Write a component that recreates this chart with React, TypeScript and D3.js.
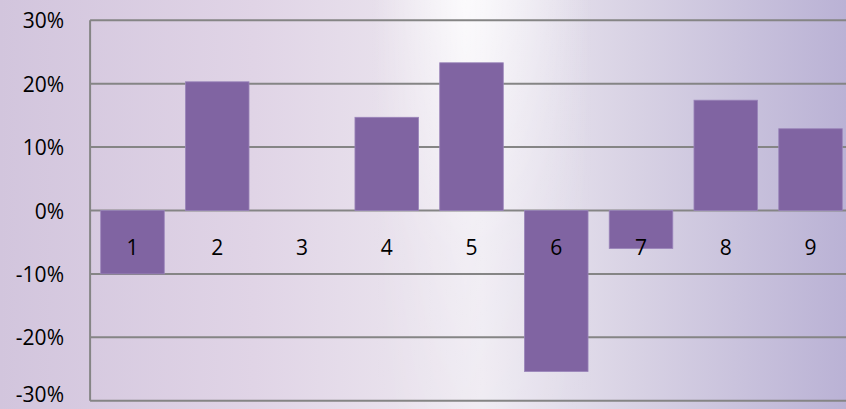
import React from "react";
import * as d3 from "d3";

const categories: string[] = ["1", "2", "3", "4", "5", "6", "7", "8", "9"];
const values: number[] = [-0.1, 0.203, 0, 0.147, 0.233, -0.254, -0.06, 0.174, 0.129];
const yTicks: number[] = [-0.3, -0.2, -0.1, 0, 0.1, 0.2, 0.3];

const W = 846;
const H = 409;

export default function App() {
  const plotLeft = 90.1;
  const plotRight = 852.9;
  const y = d3.scaleLinear().domain([-0.3, 0.3]).range([400.7, 20.3]);
  const x = d3
    .scaleBand<string>()
    .domain(categories)
    .range([plotLeft, plotRight])
    .paddingInner(0.25)
    .paddingOuter(0.125);
  const fmt = d3.format(".0%");
  const font = "'Open Sans', 'DejaVu Sans', sans-serif";

  return (
    <svg
      width={W}
      height={H}
      style={{ position: "absolute", left: 0, top: 0, display: "block" }}
    >
      <defs>
        <linearGradient id="bgH" x1="0" y1="0" x2="1" y2="0">
          <stop offset="0" stopColor="#d2c5dd" />
          <stop offset="0.3" stopColor="#e0d4e6" />
          <stop offset="0.48" stopColor="#e9e2ed" />
          <stop offset="0.57" stopColor="#eeeaf2" />
          <stop offset="0.75" stopColor="#d8d2e4" />
          <stop offset="1" stopColor="#bab2d5" />
        </linearGradient>
        <linearGradient id="streak" x1="0" y1="0" x2="1" y2="0">
          <stop offset="0.44" stopColor="#ffffff" stopOpacity="0" />
          <stop offset="0.55" stopColor="#ffffff" stopOpacity="0.8" />
          <stop offset="0.6" stopColor="#ffffff" stopOpacity="0.5" />
          <stop offset="0.7" stopColor="#ffffff" stopOpacity="0" />
        </linearGradient>
        <linearGradient id="streakMask" x1="0" y1="0" x2="0" y2="1">
          <stop offset="0" stopColor="#ffffff" stopOpacity="1" />
          <stop offset="0.6" stopColor="#ffffff" stopOpacity="0.3" />
          <stop offset="1" stopColor="#ffffff" stopOpacity="0.15" />
        </linearGradient>
        <mask id="m">
          <rect x={0} y={0} width={W} height={H} fill="url(#streakMask)" />
        </mask>
      </defs>
      <rect x={0} y={0} width={W} height={H} fill="url(#bgH)" />
      <rect x={0} y={0} width={W} height={H} fill="url(#streak)" mask="url(#m)" />

      {yTicks.map((t) => (
        <line
          key={"g" + t}
          x1={plotLeft}
          x2={plotRight}
          y1={y(t)}
          y2={y(t)}
          stroke="#858585"
          strokeWidth={2}
        />
      ))}
      <line
        x1={plotLeft}
        x2={plotLeft}
        y1={y(0.3)}
        y2={y(-0.3)}
        stroke="#858585"
        strokeWidth={2}
      />

      {categories.map((c, i) => {
        const v = values[i];
        const y0 = y(Math.max(0, v));
        const y1 = y(Math.min(0, v));
        return (
          <rect
            key={"b" + c}
            x={x(c)}
            y={y0}
            width={x.bandwidth()}
            height={Math.max(0, y1 - y0)}
            fill="#8064a2"
            stroke="#9a84ba"
            strokeWidth={0.8}
          />
        );
      })}

      {yTicks.map((t) => (
        <text
          key={"t" + t}
          x={64}
          y={t === -0.3 ? y(t) - 7 : y(t)}
          textAnchor="end"
          dominantBaseline="central"
          fontFamily={font}
          fontSize={21}
          fill="#000"
        >
          {fmt(t).replace("−", "-")}
        </text>
      ))}

      {categories.map((c) => (
        <text
          key={"c" + c}
          x={(x(c) as number) + x.bandwidth() / 2}
          y={y(0) + 36}
          textAnchor="middle"
          dominantBaseline="central"
          fontFamily={font}
          fontSize={21}
          fill="#000"
        >
          {c}
        </text>
      ))}
    </svg>
  );
}
